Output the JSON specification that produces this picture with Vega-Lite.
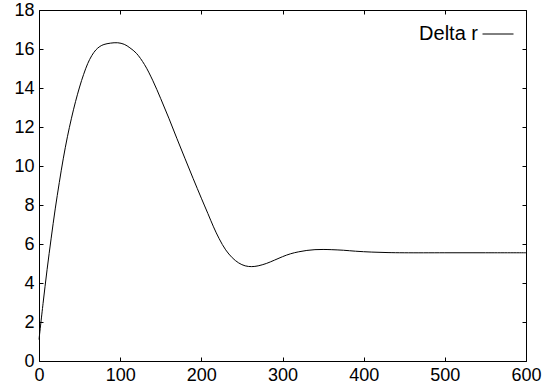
{
  "$schema": "https://vega.github.io/schema/vega-lite/v6.json",
  "width": 487,
  "height": 351,
  "autosize": "none",
  "padding": {"left": 39, "top": 10, "right": 29, "bottom": 30},
  "background": "white",
  "config": {
    "view": {"stroke": "black", "strokeWidth": 1},
    "font": "Liberation Sans",
    "axis": {
      "grid": false,
      "domain": false,
      "tickColor": "black",
      "tickSize": -4,
      "tickWidth": 1,
      "labelFont": "Liberation Sans",
      "labelFontSize": 18,
      "labelColor": "black",
      "title": null
    }
  },
  "data": {
    "values": [
      {"t": 0, "dr": 1.1},
      {"t": 5, "dr": 2.95},
      {"t": 10, "dr": 4.7},
      {"t": 15, "dr": 6.3},
      {"t": 20, "dr": 7.8},
      {"t": 25, "dr": 9.15},
      {"t": 30, "dr": 10.4},
      {"t": 35, "dr": 11.5},
      {"t": 40, "dr": 12.45},
      {"t": 45, "dr": 13.3},
      {"t": 50, "dr": 14.05},
      {"t": 55, "dr": 14.7},
      {"t": 60, "dr": 15.25},
      {"t": 65, "dr": 15.66},
      {"t": 70, "dr": 15.95},
      {"t": 75, "dr": 16.13},
      {"t": 80, "dr": 16.23},
      {"t": 88, "dr": 16.3},
      {"t": 97, "dr": 16.32},
      {"t": 105, "dr": 16.24},
      {"t": 112, "dr": 16.06},
      {"t": 120, "dr": 15.78},
      {"t": 130, "dr": 15.2},
      {"t": 140, "dr": 14.4},
      {"t": 150, "dr": 13.45},
      {"t": 160, "dr": 12.45},
      {"t": 170, "dr": 11.4},
      {"t": 180, "dr": 10.37},
      {"t": 190, "dr": 9.35},
      {"t": 200, "dr": 8.35},
      {"t": 208, "dr": 7.57},
      {"t": 215, "dr": 6.88},
      {"t": 222, "dr": 6.27},
      {"t": 230, "dr": 5.7},
      {"t": 238, "dr": 5.3},
      {"t": 246, "dr": 5.03},
      {"t": 254, "dr": 4.88},
      {"t": 262, "dr": 4.84},
      {"t": 270, "dr": 4.88},
      {"t": 280, "dr": 5.0},
      {"t": 290, "dr": 5.17},
      {"t": 300, "dr": 5.35},
      {"t": 310, "dr": 5.5},
      {"t": 320, "dr": 5.6},
      {"t": 330, "dr": 5.67},
      {"t": 340, "dr": 5.71},
      {"t": 350, "dr": 5.72},
      {"t": 360, "dr": 5.71},
      {"t": 375, "dr": 5.68},
      {"t": 390, "dr": 5.63},
      {"t": 410, "dr": 5.585},
      {"t": 430, "dr": 5.56},
      {"t": 450, "dr": 5.55},
      {"t": 500, "dr": 5.55},
      {"t": 550, "dr": 5.55},
      {"t": 600, "dr": 5.55}
    ]
  },
  "layer": [
    {
      "mark": {"type": "line", "strokeWidth": 1, "interpolate": "catmull-rom"},
      "encoding": {
        "x": {
          "field": "t", "type": "quantitative",
          "scale": {"domain": [0, 600], "nice": false, "zero": false},
          "axis": {"orient": "bottom", "values": [0, 100, 200, 300, 400, 500, 600], "labelPadding": 9, "labelFlush": false, "labelOverlap": false}
        },
        "y": {
          "field": "dr", "type": "quantitative",
          "scale": {"domain": [0, 18], "nice": false, "zero": false},
          "axis": {"orient": "left", "values": [0, 2, 4, 6, 8, 10, 12, 14, 16, 18], "labelPadding": 9, "labelFlush": false, "labelOverlap": false}
        },
        "color": {
          "datum": "Delta r",
          "scale": {"range": ["black"]},
          "legend": {
            "orient": "none",
            "legendX": 443,
            "legendY": 8,
            "title": null,
            "symbolType": "stroke",
            "symbolSize": 961,
            "symbolStrokeWidth": 1,
            "labelFont": "Liberation Sans",
            "labelFontSize": 20,
            "labelColor": "black",
            "labelAlign": "right",
            "labelOffset": -36,
            "padding": 0
          }
        }
      }
    },
    {
      "mark": {"type": "point", "opacity": 0},
      "encoding": {
        "x": {
          "field": "t", "type": "quantitative",
          "axis": {"orient": "top", "values": [0, 100, 200, 300, 400, 500, 600], "labels": false}
        },
        "y": {
          "field": "dr", "type": "quantitative",
          "axis": {"orient": "right", "values": [0, 2, 4, 6, 8, 10, 12, 14, 16, 18], "labels": false}
        }
      }
    }
  ],
  "resolve": {"axis": {"x": "independent", "y": "independent"}}
}
